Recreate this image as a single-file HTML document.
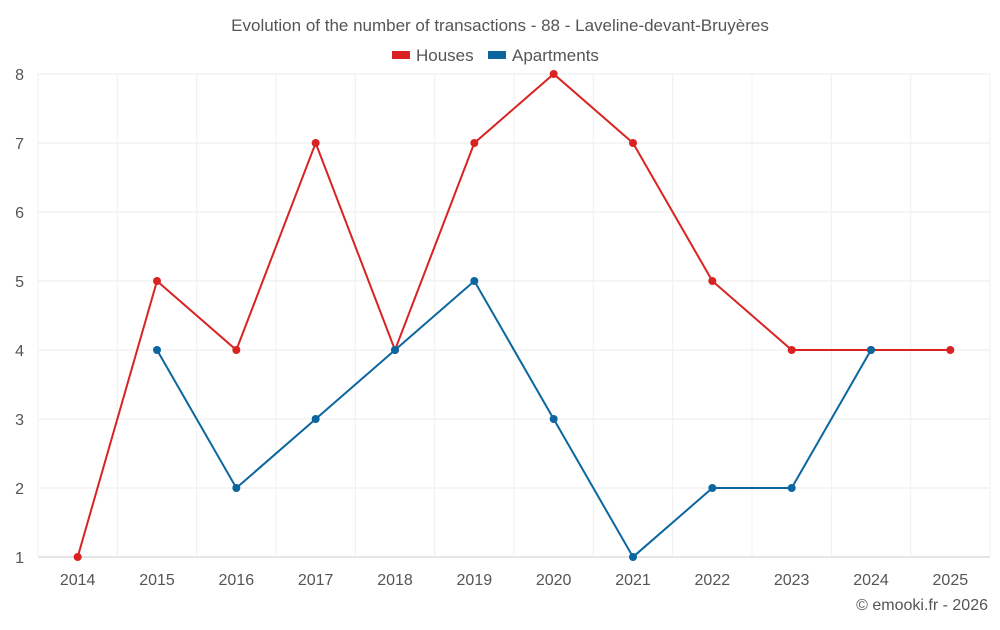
<!DOCTYPE html>
<html><head><meta charset="utf-8"><style>
body{margin:0;background:#fff;font-family:"Liberation Sans",Roboto,sans-serif;}
svg text{font-family:"Liberation Sans",sans-serif;fill:#555;}
</style></head><body>
<svg id="c" width="1000" height="625">
<text x="500" y="31" text-anchor="middle" font-size="17">Evolution of the number of transactions - 88 - Laveline-devant-Bruyères</text>
<g>
<g><rect x="392" y="51" width="18" height="8" fill="#d92323"/><text x="416" y="61" font-size="17">Houses</text></g>
<g><rect x="488" y="51" width="18" height="8" fill="#0b66a0"/><text x="512" y="61" font-size="17">Apartments</text></g>
</g>
<g id="grid"></g><g id="axes"></g><g id="series"></g>
<text x="988" y="610" text-anchor="end" font-size="16">© emooki.fr - 2026</text>
</svg>
<script>
const years=[2014,2015,2016,2017,2018,2019,2020,2021,2022,2023,2024,2025];
const houses=[1,5,4,7,4,7,8,7,5,4,4,4];
const apartments=[null,4,2,3,4,5,3,1,2,2,4,null];
const yTicks=[1,2,3,4,5,6,7,8];
const NS="http://www.w3.org/2000/svg";
const L=38,R=990,T=74,B=557,yMin=1,yMax=8;
const bw=(R-L)/years.length;
const xs=i=>L+bw*(i+0.5);
const ys=v=>B-(v-yMin)/(yMax-yMin)*(B-T);
function mk(t,a,p){const e=document.createElementNS(NS,t);for(const k in a)e.setAttribute(k,a[k]);p.appendChild(e);return e;}
const g=document.getElementById('grid'),ax=document.getElementById('axes'),s=document.getElementById('series');
yTicks.forEach(v=>{
 const l=mk('line',{x1:L,x2:R,y1:ys(v),y2:ys(v),stroke:v===yMin?'#ccc':'#ebebeb'},g);
 
 
 const t=mk('text',{x:24,y:ys(v)+6,'text-anchor':'end','font-size':16},ax);t.textContent=v;
 
 
});
years.forEach((y,i)=>{
 const l=mk('line',{x1:L+bw*i,x2:L+bw*i,y1:T,y2:B,stroke:'#f0f0f0'},g);
 
 
 const t=mk('text',{x:xs(i),y:585,'text-anchor':'middle','font-size':16},ax);t.textContent=y;
 
 
});
mk('line',{x1:R,x2:R,y1:T,y2:B,stroke:'#f0f0f0'},g);
function series(data,color,name){
 let d='';let pen=false;
 data.forEach((v,i)=>{if(v==null){pen=false;return;}d+=(pen?'L':'M')+xs(i)+' '+ys(v)+' ';pen=true;});
 const p=mk('path',{d:d,fill:'none',stroke:color,'stroke-width':2},s);
 
 
 data.forEach((v,i)=>{if(v==null)return;
  const c=mk('circle',{cx:xs(i),cy:ys(v),r:4,fill:color},s);
  
  
 });
}
series(houses,'#d92323','houses');
series(apartments,'#0b66a0','apartments');
</script>
</body></html>
